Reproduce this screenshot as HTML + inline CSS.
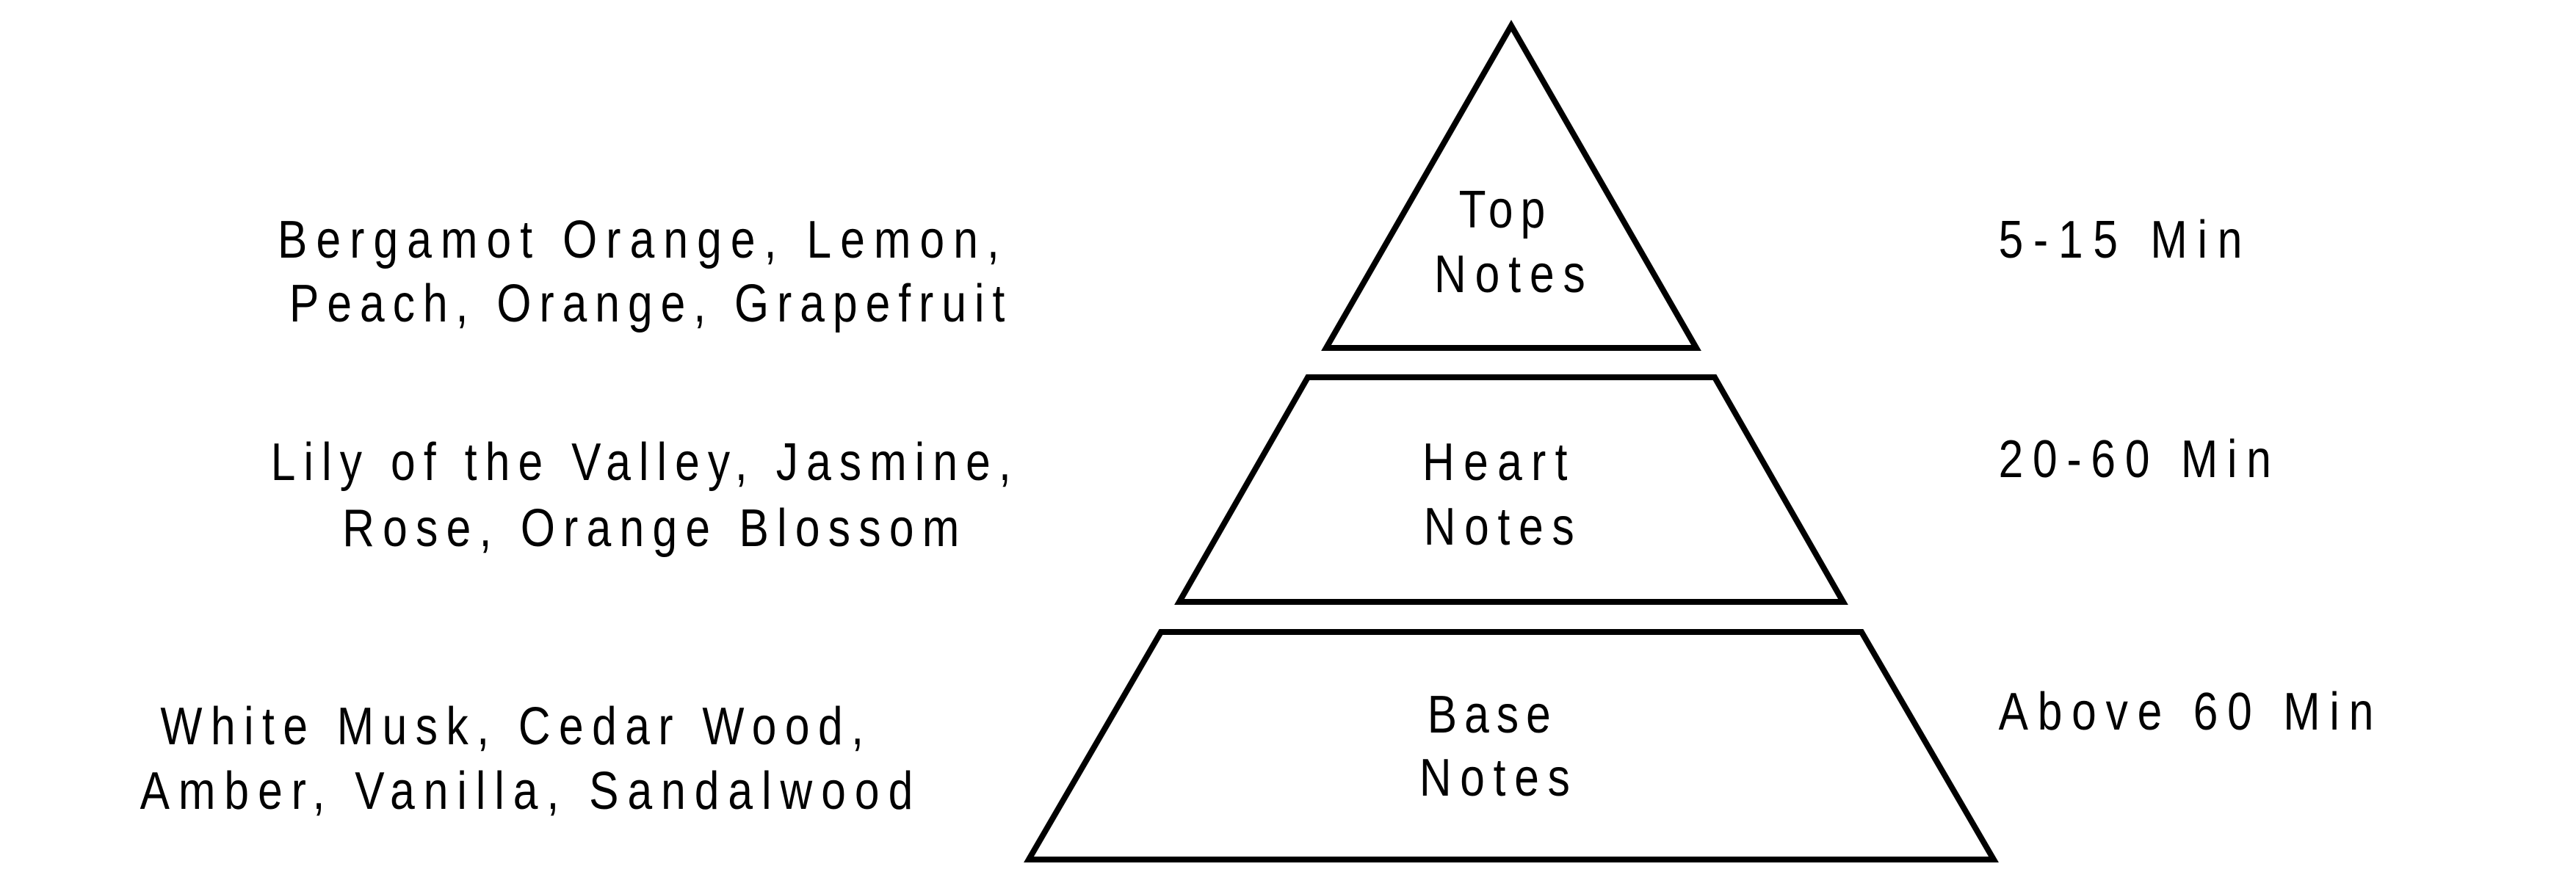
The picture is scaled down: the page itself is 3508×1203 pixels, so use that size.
<!DOCTYPE html>
<html><head><meta charset="utf-8"><style>html,body{margin:0;padding:0;background:#fff}svg{display:block}</style></head>
<body>
<svg width="3508" height="1203" viewBox="0 0 3508 1203" xmlns="http://www.w3.org/2000/svg">
<g fill="none" stroke="#000" stroke-width="8" stroke-linejoin="miter" transform="translate(-11,-3)">
<polygon points="2069,38 2321,477 1817,477"/>
<polygon points="1792,517 2346,517 2521,823 1617,823"/>
<polygon points="1592,864 2546,864 2726,1174 1412,1174"/>
</g>
<g font-family="Liberation Sans, sans-serif" fill="#000">
<g transform="scale(0.84,1)" font-size="72">
<text x="2365" y="310" textLength="140" lengthAdjust="spacing">Top</text>
<text x="2325" y="398" textLength="245" lengthAdjust="spacing">Notes</text>
<text x="2306" y="654" textLength="235" lengthAdjust="spacing">Heart</text>
<text x="2308" y="742" textLength="244" lengthAdjust="spacing">Notes</text>
<text x="2314" y="998" textLength="200" lengthAdjust="spacing">Base</text>
<text x="2301" y="1084" textLength="244" lengthAdjust="spacing">Notes</text>
<text x="450" y="351" textLength="1170" lengthAdjust="spacing">Bergamot Orange, Lemon,</text>
<text x="469" y="438" textLength="1160" lengthAdjust="spacing">Peach, Orange, Grapefruit</text>
<text x="439" y="654" textLength="1200" lengthAdjust="spacing">Lily of the Valley, Jasmine,</text>
<text x="555" y="744" textLength="1000" lengthAdjust="spacing">Rose, Orange Blossom</text>
<text x="260" y="1014" textLength="1140" lengthAdjust="spacing">White Musk, Cedar Wood,</text>
<text x="227" y="1102" textLength="1253" lengthAdjust="spacing">Amber, Vanilla, Sandalwood</text>
<text x="3240" y="351" textLength="395" lengthAdjust="spacing">5-15 Min</text>
<text x="3240" y="650" textLength="442" lengthAdjust="spacing">20-60 Min</text>
<text x="3240" y="994" textLength="608" lengthAdjust="spacing">Above 60 Min</text>
</g>
</g>
</svg>
</body></html>
